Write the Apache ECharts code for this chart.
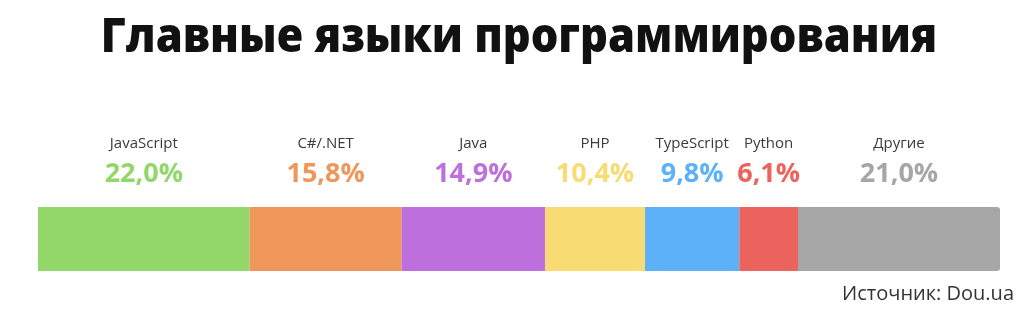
<!DOCTYPE html>
<html>
<head>
<meta charset="utf-8">
<script src="https://cdn.jsdelivr.net/npm/echarts@6/dist/echarts.min.js"></script>
<style>
  html, body { margin: 0; padding: 0; background: #fff; }
  #chart { width: 1024px; height: 332px; }
</style>
</head>
<body>
<div id="chart"></div>
<script>
// Language shares, percent of respondents
const languages = ['JavaScript', 'C#/.NET', 'Java', 'PHP', 'TypeScript', 'Python', 'Другие'];
const shares = [22.0, 15.8, 14.9, 10.4, 9.8, 6.1, 21.0];
const colors = ['#93d66a', '#ef975b', '#bd70dd', '#f8db72', '#5db1f8', '#eb635c', '#a6a6a6'];
const titleText = 'Главные языки программирования';
const sourceText = 'Источник: Dou.ua';

const fmt = v => v.toFixed(1).replace('.', ',') + '%';

const chart = echarts.init(document.getElementById('chart'), null, { renderer: 'canvas' });

const series = languages.map((name, i) => ({
  name,
  type: 'bar',
  stack: 'total',
  barWidth: 64,
  data: [shares[i]],
  itemStyle: {
    color: colors[i],
    borderRadius: i === languages.length - 1 ? [0, 3, 3, 0] : 0
  },
  label: {
    show: true,
    position: 'top',
    distance: 14,
    formatter: () => '{n|' + name + '}\n{p|' + fmt(shares[i]) + '}',
    rich: {
      n: { fontFamily: 'Open Sans', fontSize: 15, color: '#3a3a3a', lineHeight: 22, align: 'center' },
      p: { fontFamily: 'Open Sans', fontSize: 27, fontWeight: 'bold', color: colors[i], lineHeight: 38, align: 'center' }
    }
  }
}));

chart.setOption({
  animation: false,
  backgroundColor: '#ffffff',
  grid: { left: 38, right: 24, top: 207, height: 64 },
  xAxis: { type: 'value', min: 0, max: 100, show: false },
  yAxis: { type: 'category', data: [''], show: false },
  series,
  graphic: [
    {
      type: 'text',
      x: 519,
      y: 14,
      scaleX: 0.905,
      style: {
        text: titleText,
        font: '800 48px "Open Sans"',
        fill: '#111',
        align: 'center',
        verticalAlign: 'top'
      }
    },
    {
      type: 'text',
      right: 10,
      top: 284,
      style: {
        text: sourceText,
        font: '20px "Open Sans"',
        fill: '#333'
      }
    }
  ]
});
</script>
</body>
</html>
